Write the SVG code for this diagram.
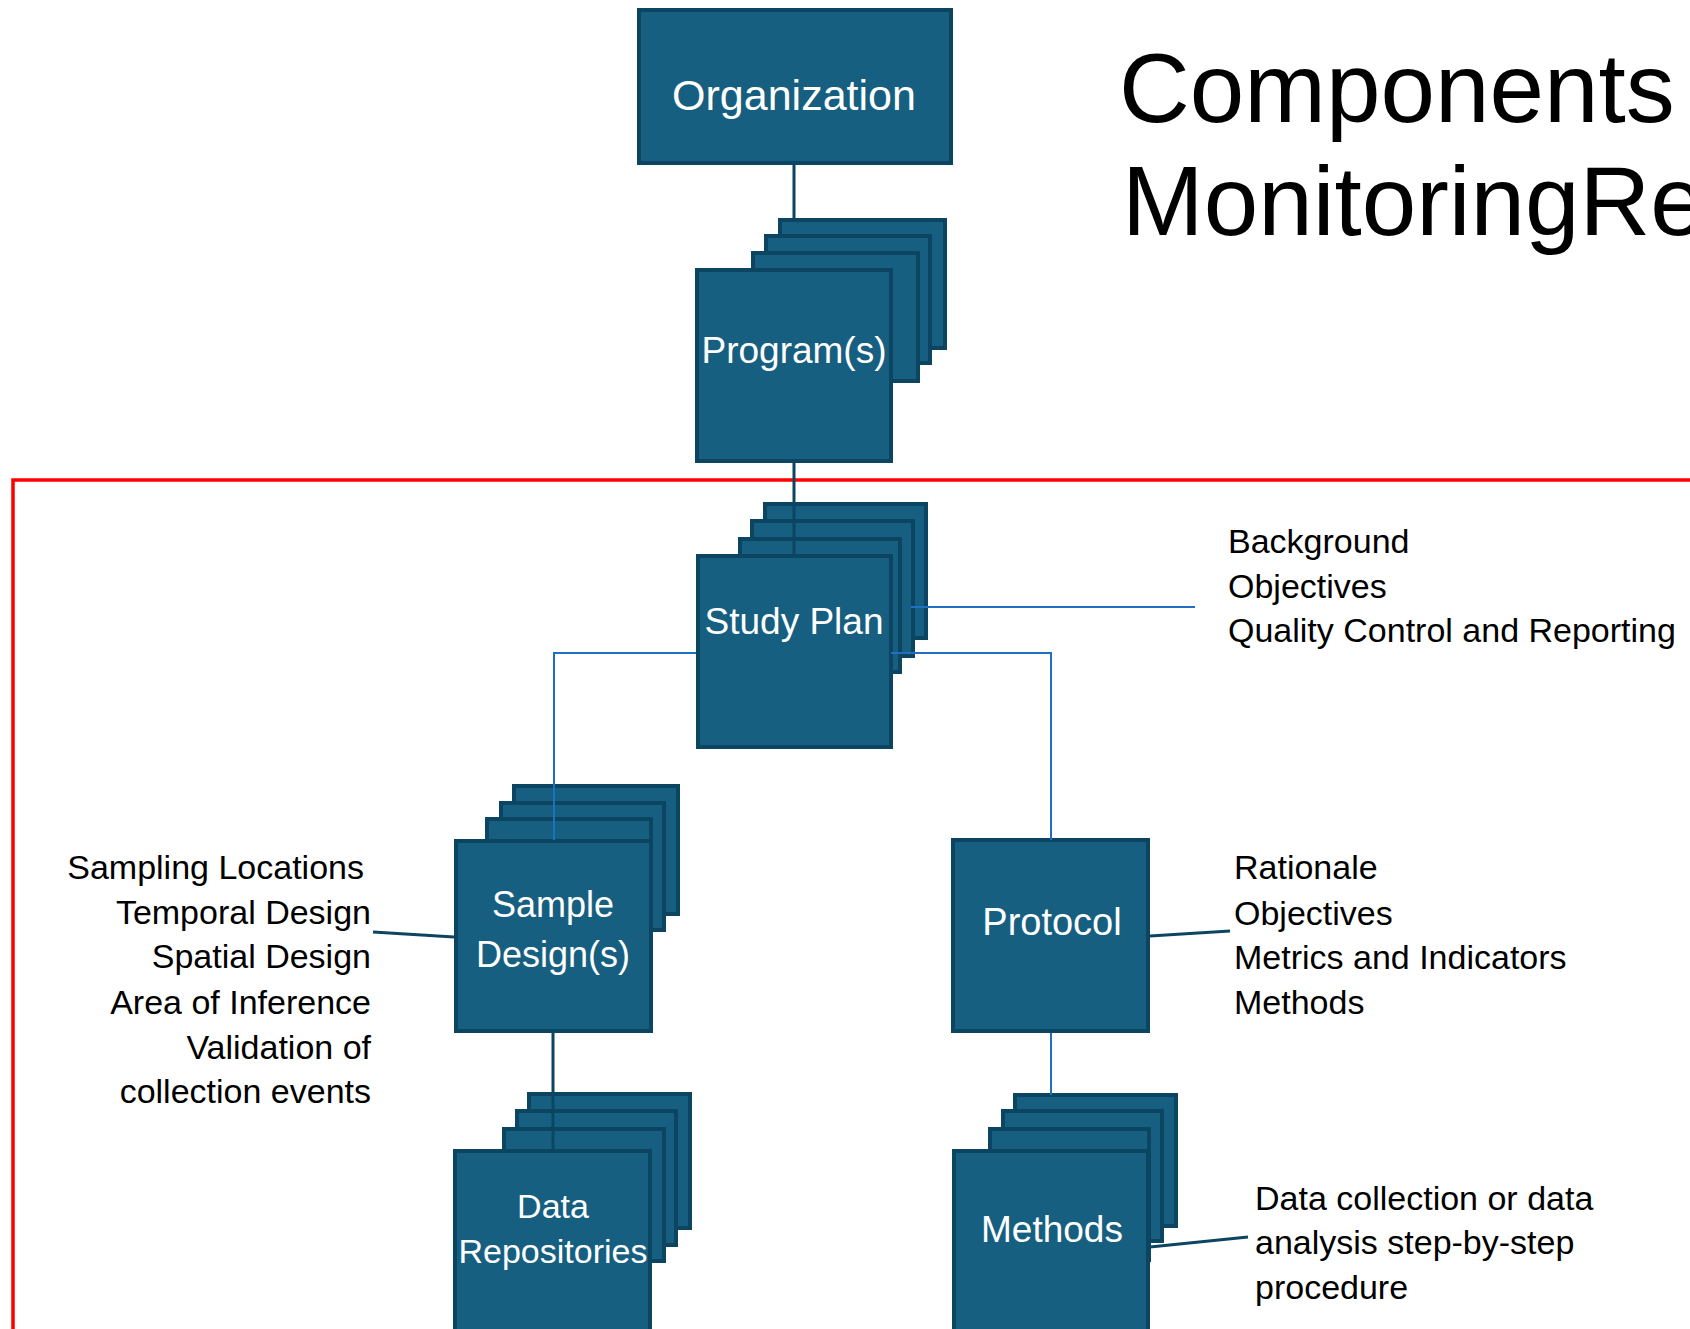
<svg xmlns="http://www.w3.org/2000/svg" width="1690" height="1329" viewBox="0 0 1690 1329">
<style>
.box{fill:#175F81;stroke:#0C4561;stroke-width:4}
.nt{fill:#FFFFFF;font-family:"Liberation Sans",Arial,sans-serif;text-anchor:middle}
.lbl{fill:#000000;font-family:"Liberation Sans",Arial,sans-serif;font-size:34px}
.dk{fill:none;stroke:#0C4561;stroke-width:3}
.bl{fill:none;stroke:#1F6FC3;stroke-width:2}
</style>
<rect width="1690" height="1329" fill="#FFFFFF"/>
<rect id="scope" x="13" y="480" width="1700" height="900" fill="none" stroke="#FF0000" stroke-width="3.5"/>
<g id="title">
<text x="1119" y="122" style="font-family:'Liberation Sans',Arial,sans-serif;font-size:98px" fill="#000">Components</text>
<text x="1122" y="235" style="font-family:'Liberation Sans',Arial,sans-serif;font-size:98px" fill="#000">MonitoringRe</text>
</g>
<g id="organization">
<rect class="box" x="639" y="10" width="312" height="153"/>
<text class="nt" x="794" y="110" font-size="43">Organization</text>
</g>
<g id="programs">
<rect class="box" x="780" y="220" width="165" height="128"/>
<rect class="box" x="766" y="236" width="164" height="127"/>
<rect class="box" x="753" y="253" width="165" height="128"/>
<rect class="box" x="697" y="270" width="194" height="191"/>
<text class="nt" x="794" y="363" font-size="37">Program(s)</text>
</g>
<g id="study-plan">
<rect class="box" x="765" y="504" width="161" height="134"/>
<rect class="box" x="752" y="521" width="161" height="135"/>
<rect class="box" x="740" y="539" width="160" height="133"/>
<rect class="box" x="698" y="556" width="193" height="191"/>
<text class="nt" x="794" y="634" font-size="37">Study Plan</text>
</g>
<g id="study-plan-notes">
<text class="lbl" x="1228" y="553">Background</text>
<text class="lbl" x="1228" y="598">Objectives</text>
<text class="lbl" x="1228" y="642">Quality Control and Reporting</text>
</g>
<g id="sample-design">
<rect class="box" x="514" y="786" width="164" height="128"/>
<rect class="box" x="501" y="803" width="163" height="127"/>
<rect class="box" x="487" y="819" width="164" height="126"/>
<rect class="box" x="456" y="841" width="195" height="190"/>
<text class="nt" x="553" y="917" font-size="36">Sample</text>
<text class="nt" x="553" y="967" font-size="36">Design(s)</text>
</g>
<g id="sample-design-notes">
<text class="lbl" x="364" y="879" text-anchor="end">Sampling Locations</text>
<text class="lbl" x="371" y="924" text-anchor="end">Temporal Design</text>
<text class="lbl" x="371" y="968" text-anchor="end">Spatial Design</text>
<text class="lbl" x="371" y="1014" text-anchor="end">Area of Inference</text>
<text class="lbl" x="371" y="1059" text-anchor="end">Validation of</text>
<text class="lbl" x="371" y="1103" text-anchor="end">collection events</text>
</g>
<g id="protocol">
<rect class="box" x="953" y="840" width="195" height="191"/>
<text class="nt" x="1052" y="935" font-size="38">Protocol</text>
</g>
<g id="protocol-notes">
<text class="lbl" x="1234" y="879">Rationale</text>
<text class="lbl" x="1234" y="925">Objectives</text>
<text class="lbl" x="1234" y="969">Metrics and Indicators</text>
<text class="lbl" x="1234" y="1014">Methods</text>
</g>
<g id="data-repositories">
<rect class="box" x="529" y="1094" width="161" height="134"/>
<rect class="box" x="517" y="1111" width="159" height="134"/>
<rect class="box" x="504" y="1129" width="160" height="132"/>
<rect class="box" x="455" y="1151" width="195" height="250"/>
<text class="nt" x="553" y="1218" font-size="34">Data</text>
<text class="nt" x="553" y="1263" font-size="34">Repositories</text>
</g>
<g id="methods">
<rect class="box" x="1015" y="1095" width="161" height="131"/>
<rect class="box" x="1003" y="1111" width="159" height="130"/>
<rect class="box" x="990" y="1129" width="159" height="131"/>
<rect class="box" x="954" y="1151" width="194" height="250"/>
<text class="nt" x="1052" y="1242" font-size="37">Methods</text>
</g>
<g id="methods-notes">
<text class="lbl" x="1255" y="1210">Data collection or data</text>
<text class="lbl" x="1255" y="1254">analysis step-by-step</text>
<text class="lbl" x="1255" y="1299">procedure</text>
</g>
<g id="connectors">
<line class="dk" x1="794" y1="165" x2="794" y2="220"/>
<line class="dk" x1="794" y1="463" x2="794" y2="556"/>
<polyline class="bl" points="696,653 554,653 554,840"/>
<polyline class="bl" points="891,653 1051,653 1051,840"/>
<line class="bl" x1="911" y1="607" x2="1195" y2="607"/>
<line class="bl" x1="1051" y1="1033" x2="1051" y2="1095"/>
<line class="dk" x1="553" y1="1033" x2="553" y2="1151"/>
<line class="dk" x1="373" y1="932" x2="454" y2="937"/>
<line class="dk" x1="1150" y1="936" x2="1230" y2="931"/>
<line class="dk" x1="1150" y1="1247" x2="1248" y2="1237"/>
</g>
</svg>
